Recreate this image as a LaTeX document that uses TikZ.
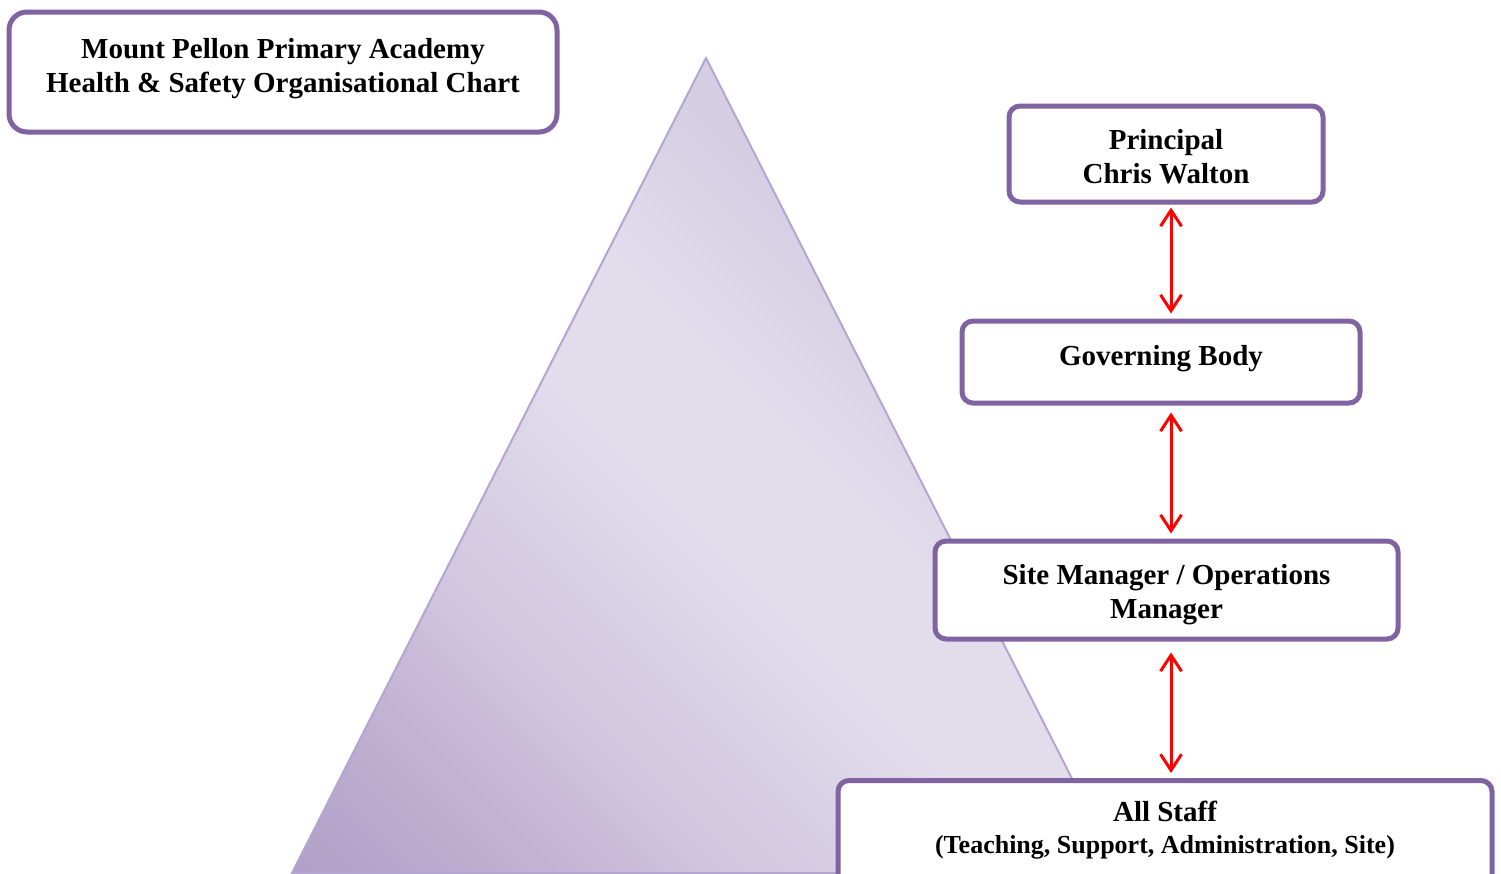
\documentclass[tikz,border=0pt]{standalone}
\usepackage{fontspec}
\setmainfont{Liberation Serif}
\usepackage{tikz}
\usetikzlibrary{arrows.meta}
\definecolor{boxline}{HTML}{8064A2}
\definecolor{triline}{HTML}{B4A6D0}
\definecolor{tridark}{HTML}{B1A1C8}
\definecolor{trideep}{HTML}{B3A3C9}
\definecolor{trimid}{HTML}{C8BAD8}
\definecolor{trimix}{HTML}{D0C6DF}
\definecolor{trisoft}{HTML}{DAD2E6}
\definecolor{trilight}{HTML}{E2DCEB}
\definecolor{tritop}{HTML}{D6CEE3}
\pgfdeclareverticalshading{trishade}{100bp}{color(0bp)=(tridark); color(15bp)=(tridark);
    color(17bp)=(trideep); color(29bp)=(trimid); color(33bp)=(trimix); color(41bp)=(trisoft);
    color(47bp)=(trilight); color(55bp)=(trilight); color(65bp)=(tritop); color(100bp)=(tritop)}
\newcommand{\boxtext}[2]{\raisebox{#1}[\height][\depth]{\begin{tabular}{@{}c@{}}#2\end{tabular}}}
\tikzset{
    chartbox/.style={draw=boxline, line width=5pt, fill=white, rounded corners=11pt,
        font=\bfseries\fontsize{29}{34}\selectfont, inner sep=0pt},
    linkarrow/.style={draw=red, line width=3pt, {Straight Barb[length=16pt,width=21pt]}-{Straight Barb[length=16pt,width=21pt]}}
}

\begin{document}
\begin{tikzpicture}[x=1pt, y=-1pt]
    \useasboundingbox (0,0) rectangle (1501,873);
    \coordinate (apex) at (706,58);  \coordinate (left) at (292,873); \coordinate (right) at (1120,873);
    \path[draw=triline, line width=2pt, shading=trishade, shading angle=-45] (apex) -- (left) -- (right) -- cycle;

    \node[chartbox, rounded corners=18pt, minimum width=548pt, minimum height=120pt] (title) at (283,72)
        {\boxtext{3pt}{Mount Pellon Primary Academy\\Health \& Safety Organisational Chart}};
    \node[chartbox, minimum width=314pt, minimum height=96pt] (principal) at (1166,154)
        {\boxtext{-6pt}{Principal\\Chris Walton}};
    \node[chartbox, minimum width=398pt, minimum height=82pt] (governors) at (1161,362)
        {\boxtext{3pt}{Governing Body}};
    \node[chartbox, minimum width=463pt, minimum height=98pt] (site) at (1166.5,590)
        {\boxtext{-5pt}{Site Manager / Operations\\Manager}};
    \node[chartbox, minimum width=654pt, minimum height=130pt, anchor=north] (staff) at (1165,778)
        {};
    \node[font=\bfseries\fontsize{29}{34}\selectfont] (stafftitle) at (1165,811) {All Staff};
    \node[font=\bfseries\fontsize{26}{30}\selectfont] (staffsub) at (1165,847) {(Teaching, Support, Administration, Site)};

    \coordinate (axis) at (1171,0);
    \draw[linkarrow] ([yshift=-3pt]principal.south -| axis) -- ([yshift=5pt]governors.north -| axis);
    \draw[linkarrow] ([yshift=-7pt]governors.south -| axis) -- ([yshift=5pt]site.north -| axis);
    \draw[linkarrow] ([yshift=-11pt]site.south -| axis) -- ([yshift=5pt]staff.north -| axis);
\end{tikzpicture}
\end{document}
